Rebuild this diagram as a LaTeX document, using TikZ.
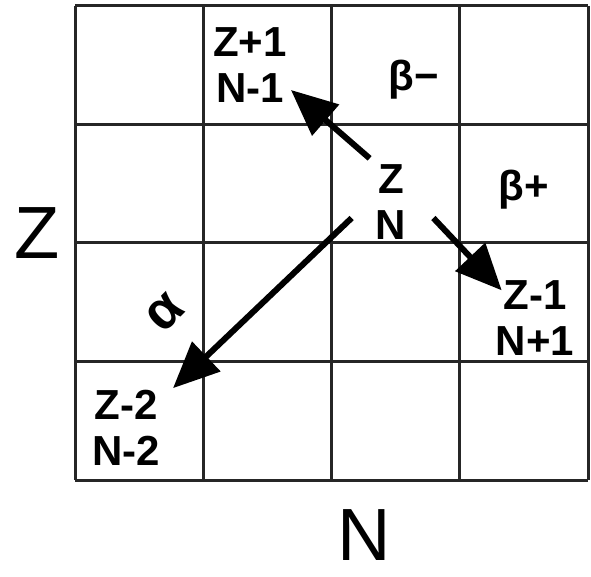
\documentclass[tikz,border=0pt]{standalone}
\usepackage{fontspec}
\setmainfont{Liberation Sans}
\usetikzlibrary{arrows.meta,positioning}
\tikzset{
  cell/.style={line width=3pt,black!85},
  nucl/.style={inner sep=0pt,align=center,font=\bfseries\fontsize{42}{46}\selectfont},
  decay/.style={inner sep=0pt,font=\bfseries\fontsize{42}{46}\selectfont},
  axis/.style={inner sep=0pt,font=\fontsize{74}{76}\selectfont},
  arr/.style={line width=6pt,-{Triangle[length=46pt,width=40pt]}},
}
\begin{document}
\begin{tikzpicture}[x=1pt,y=-1pt]
\useasboundingbox (0,0) rectangle (591,577);
\fill[white] (0,0) rectangle (591,577);
% chart of nuclides, 4x4 cells
\foreach \x in {75,203.25,331.5,459.75,588} {
  \draw[cell] (\x,6) -- (\x,480);
}
\foreach \y in {6,124.5,243,361.5,480} {
  \draw[cell] (75,\y) -- (588,\y);
}
\node[axis] (zaxis) at (37,233) {Z};
\node[axis] (naxis) at (364,535) {N};
% parent and daughters
\node[nucl] (zn) at (391,202) {Z\\N};
\node[nucl] (up) at (250,65) {Z+1\\N-1};
\node[nucl] (dn) at (535,318) {Z-1\\N+1};
\node[nucl] (al) at (126,428) {Z-2\\N-2};
\node[decay] (bm) at (414,80) {β−};
\node[decay] (bp) at (524,190) {β+};
\node[decay,rotate=45,font=\bfseries\fontsize{54}{56}\selectfont] (alpha) at (165,313) {α};
% decays
\draw[arr] ([shift={(-6,-6)}]zn.north west) -- ([shift={(4,25)}]up.east);
\draw[arr] ([shift={(27,16)}]zn.east) -- ([shift={(6,10)}]dn.north west);
\draw[arr] ([shift={(-24,16)}]zn.west) -- ([shift={(13,-2)}]al.north east);
\end{tikzpicture}
\end{document}
